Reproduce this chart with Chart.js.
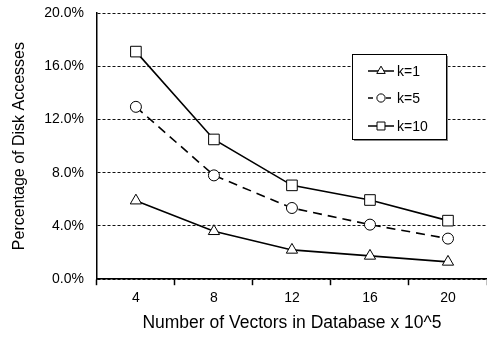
<!DOCTYPE html>
<html>
<head>
<meta charset="utf-8">
<script src="https://cdn.jsdelivr.net/npm/chart.js@4/dist/chart.umd.min.js"></script>
<style>
  html, body { margin: 0; padding: 0; background: #fff; }
  canvas { display: block; }
</style>
</head>
<body>
<canvas id="chart" width="487" height="337"></canvas>
<script>
const vectorCounts = ['4', '8', '12', '16', '20'];
const k1Values = [5.9, 3.6, 2.2, 1.75, 1.3];
const k5Values = [12.95, 7.8, 5.35, 4.1, 3.05];
const k10Values = [17.1, 10.5, 7.05, 5.95, 4.4];
const seriesLabels = ['k=1', 'k=5', 'k=10'];

const FONT = 'Arial, "Liberation Sans", sans-serif';

// legend drawn inside the plot, like the original figure
const boxLegend = {
    id: 'boxLegend',
    afterDraw(chart) {
        const ctx = chart.ctx;
        const x = 352, y = 54, w = 94, h = 85;
        ctx.save();
        ctx.fillStyle = '#888';
        ctx.fillRect(x + 2, y + 2, w, h);
        ctx.fillStyle = '#fff';
        ctx.fillRect(x, y, w, h);
        ctx.strokeStyle = '#000';
        ctx.lineWidth = 1;
        ctx.strokeRect(x + 0.5, y + 0.5, w, h);

        const rows = [71, 98, 126];
        chart.data.datasets.forEach((ds, i) => {
            const ry = rows[i];
            ctx.strokeStyle = '#000';
            ctx.lineWidth = 1.5;
            ctx.setLineDash(i === 1 ? [5, 4] : []);
            ctx.beginPath();
            ctx.moveTo(368, ry);
            ctx.lineTo(394, ry);
            ctx.stroke();
            ctx.setLineDash([]);
            ctx.fillStyle = '#fff';
            ctx.strokeStyle = '#000';
            ctx.lineWidth = 1;
            Chart.helpers.drawPoint(ctx, {
                pointStyle: ds.pointStyle,
                radius: ds.pointRadius * 0.75,
                borderWidth: 1
            }, 381, ry);
            ctx.fillStyle = '#000';
            ctx.font = '14px ' + FONT;
            ctx.textBaseline = 'middle';
            ctx.fillText(ds.label, 397, ry + 1);
        });
        ctx.restore();
    }
};

new Chart(document.getElementById('chart'), {
    type: 'line',
    data: {
        labels: vectorCounts,
        datasets: [
            {
                label: seriesLabels[0],
                data: k1Values,
                borderColor: '#000',
                borderWidth: 1.6,
                pointStyle: 'triangle',
                pointRadius: 6.5,
                pointBackgroundColor: '#fff',
                pointBorderColor: '#000',
                pointBorderWidth: 1,
                tension: 0
            },
            {
                label: seriesLabels[1],
                data: k5Values,
                borderColor: '#000',
                borderWidth: 1.6,
                borderDash: [9, 6],
                pointStyle: 'circle',
                pointRadius: 5.5,
                pointBackgroundColor: '#fff',
                pointBorderColor: '#000',
                pointBorderWidth: 1,
                tension: 0
            },
            {
                label: seriesLabels[2],
                data: k10Values,
                borderColor: '#000',
                borderWidth: 1.6,
                pointStyle: 'rect',
                pointRadius: 7.5,
                pointBackgroundColor: '#fff',
                pointBorderColor: '#000',
                pointBorderWidth: 1,
                tension: 0
            }
        ]
    },
    options: {
        responsive: false,
        animation: false,
        layout: {
            autoPadding: false,
            padding: { top: 13, right: 0, bottom: 3, left: 10 }
        },
        plugins: {
            legend: { display: false },
            tooltip: { enabled: false }
        },
        scales: {
            x: {
                offset: true,
                afterFit(scale) {
                    scale.paddingLeft = 0;
                    scale.paddingRight = 0;
                },
                grid: {
                    offset: true,
                    drawOnChartArea: false,
                    color: '#000',
                    tickLength: 6,
                    tickWidth: 1.5
                },
                border: { color: '#000', width: 1.5 },
                ticks: {
                    color: '#000',
                    padding: 5,
                    font: { family: FONT, size: 14 }
                },
                title: {
                    display: true,
                    text: 'Number of Vectors in Database x 10^5',
                    color: '#000',
                    padding: { top: 1, bottom: 0 },
                    font: { family: FONT, size: 17.5 }
                }
            },
            y: {
                min: 0,
                max: 20,
                afterFit(scale) {
                    // let the top label hang above the plot instead of pushing it down
                    scale.paddingTop = 0;
                },
                grid: {
                    color: '#111',
                    lineWidth: 1,
                    drawTicks: false
                },
                border: { color: '#000', width: 1.5, dash: [3, 2] },
                ticks: {
                    stepSize: 4,
                    color: '#000',
                    padding: 13,
                    font: { family: FONT, size: 14 },
                    callback: v => v.toFixed(1) + '%'
                },
                title: {
                    display: true,
                    text: 'Percentage of Disk Accesses',
                    color: '#000',
                    padding: { top: 0, bottom: 2 },
                    font: { family: FONT, size: 16 }
                }
            }
        }
    },
    plugins: [boxLegend]
});
</script>
</body>
</html>
